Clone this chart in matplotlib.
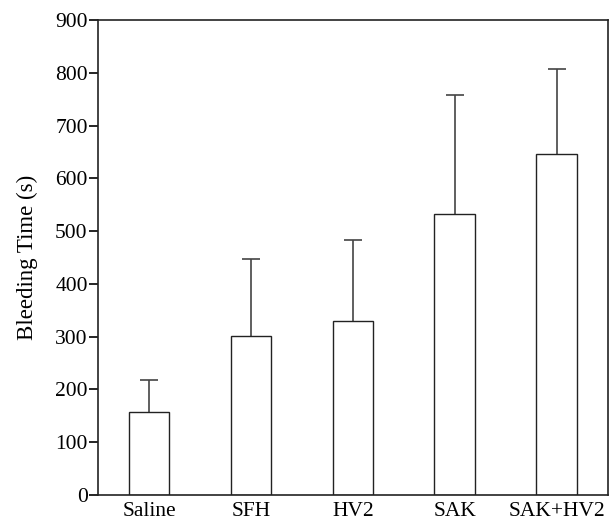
import matplotlib.pyplot as plt

groups = ['Saline', 'SFH', 'HV2', 'SAK', 'SAK+HV2']
bleeding = [157, 301, 330, 532, 647]
err_up = [61, 147, 153, 226, 160]

plt.rcParams['font.family'] = ['Liberation Serif', 'DejaVu Serif']

fig = plt.figure(figsize=(6.09, 5.21), dpi=100)
ax = fig.add_axes([0.161, 0.05, 0.837, 0.9116])

x = list(range(len(groups)))
ax.bar(x, bleeding, width=0.4, color='white', edgecolor='#222222', linewidth=1.0, zorder=2)
eb = ax.errorbar(x, bleeding, yerr=[[0] * len(x), err_up], fmt='none', ecolor='#444444',
                 elinewidth=1.2, capsize=6.5, capthick=1.2, zorder=1)
# only the upper cap
eb[1][0].set_visible(False)

ax.set_xlim(-0.5, 4.5)
ax.set_ylim(0, 900)
ax.set_yticks(range(0, 901, 100))
ax.set_xticks(x)
ax.set_xticklabels(groups)
ax.tick_params(axis='x', length=0, labelsize=15.5, pad=5)
ax.tick_params(axis='y', length=6.5, width=1.2, labelsize=15.5, direction='out', pad=1)
for s in ax.spines.values():
    s.set_linewidth(1.2)
    s.set_color('#222222')
ax.set_ylabel('Bleeding Time (s)', fontsize=16.5, labelpad=12)

fig.savefig('out.png', dpi=100)
